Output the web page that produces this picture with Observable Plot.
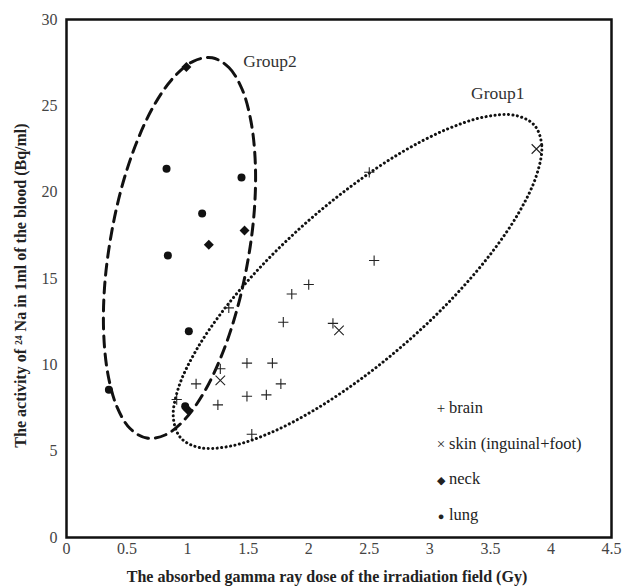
<!DOCTYPE html>
<html>
<head>
<meta charset="utf-8">
<script src="https://cdn.jsdelivr.net/npm/d3@7"></script>
<script src="https://cdn.jsdelivr.net/npm/@observablehq/plot@0.6"></script>
<style>
  html, body { margin: 0; padding: 0; background: #fff; }
  #wrap { position: relative; width: 624px; height: 588px; font-family: "Liberation Serif", "Times New Roman", serif; }
  #wrap svg text { font-family: "Liberation Serif", "Times New Roman", serif !important; }
  #legend { position: absolute; left: 435px; top: 390px; font-size: 16.5px; color: #222; }
  #legend div { height: 35.7px; line-height: 36px; white-space: nowrap; }
  #legend span.sym { display: inline-block; width: 12px; text-align: center; margin-right: 2px; font-size: 15px; }
  #legend span.sym.small { font-size: 11px; }
</style>
</head>
<body>
<div id="wrap"></div>
<script>
// Data
const brainX = [2.50, 2.54, 2.00, 1.86, 1.79, 2.20, 1.34, 1.27, 1.49, 1.70, 1.07, 1.77, 1.49, 1.65, 1.25, 0.91, 1.53];
const brainY = [21.15, 16.04, 14.65, 14.10, 12.47, 12.40, 13.30, 9.77, 10.10, 10.10, 8.90, 8.90, 8.18, 8.26, 7.68, 7.99, 5.98];
const skinX = [3.88, 2.25, 1.27];
const skinY = [22.50, 12.00, 9.10];
const neckX = [0.99, 1.175, 1.47, 1.00];
const neckY = [27.25, 16.95, 17.78, 7.40];
const lungX = [0.826, 1.445, 1.12, 0.837, 1.01, 0.35, 0.98];
const lungY = [21.35, 20.85, 18.76, 16.33, 11.95, 8.55, 7.60];

// Hand-drawn group outlines (data units)
const group1X = [3.863, 3.924, 3.881, 3.737, 3.503, 3.193, 2.830, 2.437, 2.043, 1.673, 1.352, 1.103, 0.943, 0.882, 0.925, 1.068, 1.303, 1.613, 1.976, 2.369, 2.763, 3.133, 3.453, 3.702];
const group1Y = [23.88, 22.70, 20.98, 18.84, 16.43, 13.90, 11.44, 9.21, 7.37, 6.03, 5.29, 5.20, 5.77, 6.95, 8.68, 10.81, 13.23, 15.75, 18.21, 20.44, 22.29, 23.62, 24.36, 24.45];
const group2X = [1.203, 1.341, 1.450, 1.524, 1.559, 1.551, 1.499, 1.410, 1.288, 1.143, 0.983, 0.819, 0.663, 0.525, 0.416, 0.342, 0.307, 0.315, 0.367, 0.456, 0.578, 0.723, 0.884, 1.047];
const group2Y = [27.78, 27.22, 25.96, 24.07, 21.68, 18.96, 16.08, 13.26, 10.67, 8.50, 6.89, 5.95, 5.76, 6.31, 7.58, 9.46, 11.85, 14.58, 17.45, 20.28, 22.86, 25.03, 26.64, 27.58];

const groupLabels = ["Group2", "Group1"];
const groupLabelX = [1.46, 3.34];
const groupLabelY = [27.6, 25.7];

const xTicks = [0, 0.5, 1, 1.5, 2, 2.5, 3, 3.5, 4, 4.5];
const yTicks = [0, 5, 10, 15, 20, 25, 30];

const legendItems = [["+", "brain", ""], ["×", "skin (inguinal+foot)", ""], ["◆", "neck", "small"], ["●", "lung", "small"]];

const zip = (xs, ys) => xs.map((x, i) => ({x, y: ys[i]}));
const brain = zip(brainX, brainY);
const skin = zip(skinX, skinY);
const neck = zip(neckX, neckY);
const lung = zip(lungX, lungY);
const g1 = zip(group1X, group1Y);
const g2 = zip(group2X, group2Y);
const labels = groupLabels.map((t, i) => ({t, x: groupLabelX[i], y: groupLabelY[i]}));

const font = '"Liberation Serif", "Times New Roman", serif';

const chart = Plot.plot({
  width: 624,
  height: 588,
  marginLeft: 66,
  marginRight: 13,
  marginTop: 19,
  marginBottom: 51,
  style: {fontFamily: font, fontSize: "16px", background: "#fff", color: "#333"},
  x: {domain: [0, 4.5]},
  y: {domain: [0, 30]},
  marks: [
    Plot.axisX({ticks: xTicks, tickSize: 0, tickPadding: 5, tickFormat: d => String(d), fontSize: 16, fill: "#444",
      label: "The absorbed gamma ray dose of the irradiation field (Gy)", labelAnchor: "center", labelArrow: "none", labelOffset: 44}),
    Plot.axisY({ticks: yTicks, tickSize: 0, tickPadding: 9, tickFormat: d => String(d), fontSize: 16, fill: "#444",
      label: "The activity of ²⁴ Na in 1ml of the blood (Bq/ml)", labelAnchor: "center", labelArrow: "none", labelOffset: 52}),
    Plot.line(g2, {x: "x", y: "y", curve: "catmull-rom-closed", stroke: "#111", strokeWidth: 3, strokeDasharray: "11,7"}),
    Plot.line(g1, {x: "x", y: "y", curve: "catmull-rom-closed", stroke: "#111", strokeWidth: 3, strokeDasharray: "0.1,4.4", strokeLinecap: "round"}),
    Plot.dot(brain, {x: "x", y: "y", symbol: "plus", r: 3.4, stroke: "#222", strokeWidth: 1.1}),
    Plot.dot(skin, {x: "x", y: "y", symbol: "times", r: 4.4, stroke: "#222", strokeWidth: 1.1}),
    Plot.dot(neck, {x: "x", y: "y", symbol: "diamond2", r: 4.5, fill: "#111", stroke: "none"}),
    Plot.dot(lung, {x: "x", y: "y", symbol: "circle", r: 4, fill: "#111", stroke: "none"}),
    Plot.text(labels, {x: "x", y: "y", text: "t", textAnchor: "start", fontSize: 17.5, fill: "#333"}),
    Plot.frame({stroke: "#111", strokeWidth: 2.5})
  ]
});

// bold axis titles, nudged to sit where the reference has them
d3.select(chart).selectAll("[aria-label='x-axis label'] text, [aria-label='y-axis label'] text")
  .style("font-weight", "bold").style("font-size", "16px").style("fill", "#222");
d3.select(chart).selectAll("[aria-label='x-axis label']").attr("transform", function () {
  const t = this.getAttribute("transform") || ""; return t + " translate(-12,0)";
});
d3.select(chart).selectAll("[aria-label='y-axis label']").attr("transform", function () {
  const t = this.getAttribute("transform") || ""; return t + " translate(0,7)";
});

const wrap = document.getElementById("wrap");
wrap.appendChild(chart);
const legend = document.createElement("div");
legend.id = "legend";
legend.innerHTML = legendItems.map(([s, t, c]) => `<div><span class="sym ${c}">${s}</span>${t}</div>`).join("");
wrap.appendChild(legend);
</script>
</body>
</html>
